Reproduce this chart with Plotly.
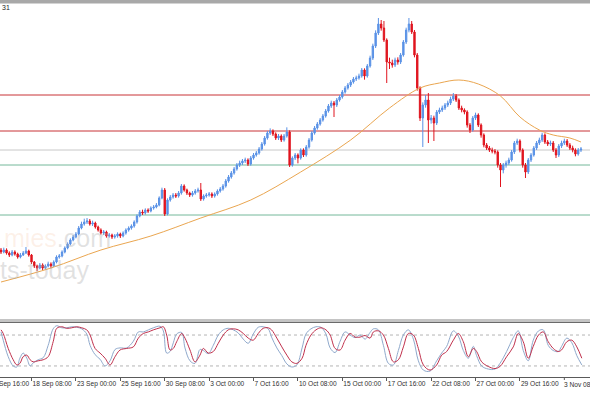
import plotly.graph_objects as go

# ---------------- data (4H bars, XAU/USD style prices) ----------------
bar_index = list(range(210))

opens = [3685, 3679, 3685, 3676, 3670, 3679, 3673, 3664, 3670, 3676,
         3682, 3670, 3649, 3637, 3631, 3640, 3631, 3637, 3643, 3637,
         3649, 3664, 3667, 3679, 3691, 3703, 3715, 3724, 3733, 3751,
         3763, 3769, 3772, 3763, 3766, 3754, 3745, 3736, 3739, 3727,
         3730, 3724, 3727, 3733, 3727, 3736, 3745, 3751, 3757, 3769,
         3787, 3799, 3796, 3805, 3802, 3811, 3814, 3820, 3841, 3865,
         3793, 3835, 3844, 3850, 3847, 3856, 3877, 3865, 3856, 3850,
         3856, 3862, 3865, 3838, 3847, 3850, 3853, 3847, 3853, 3862,
         3868, 3877, 3892, 3904, 3916, 3928, 3940, 3946, 3952, 3955,
         3943, 3961, 3970, 3976, 3988, 4003, 4021, 4036, 4042, 4033,
         4021, 4027, 4015, 4027, 4039, 3940, 3961, 3970, 3961, 3985,
         3970, 3994, 4015, 4036, 4051, 4063, 4075, 4087, 4102, 4117,
         4126, 4120, 4135, 4144, 4159, 4171, 4180, 4189, 4198, 4201,
         4207, 4225, 4207, 4237, 4261, 4297, 4336, 4363, 4351, 4315,
         4249, 4246, 4240, 4255, 4249, 4270, 4309, 4345, 4363, 4339,
         4270, 4171, 4081, 4120, 4135, 4075, 4081, 4066, 4099, 4105,
         4111, 4120, 4126, 4138, 4147, 4135, 4111, 4105, 4099, 4060,
         4045, 4081, 4090, 4060, 4030, 4000, 3991, 3985, 3982, 3979,
         3940, 3925, 3940, 3946, 3955, 3979, 4006, 4012, 3985, 3940,
         3919, 3955, 3970, 3991, 4006, 4015, 4030, 4009, 4003, 4006,
         3985, 3970, 3997, 4006, 4012, 4000, 3991, 3985, 3973, 3985]

highs = [3691, 3692, 3690, 3681, 3685, 3684, 3677, 3676, 3682, 3694,
         3686, 3673, 3652, 3641, 3646, 3645, 3642, 3650, 3648, 3654,
         3669, 3673, 3684, 3696, 3708, 3720, 3730, 3739, 3757, 3770,
         3779, 3781, 3778, 3773, 3770, 3758, 3750, 3745, 3743, 3736,
         3734, 3733, 3738, 3737, 3741, 3750, 3756, 3762, 3774, 3792,
         3805, 3806, 3810, 3810, 3816, 3820, 3826, 3846, 3872, 3871,
         3840, 3850, 3856, 3856, 3862, 3883, 3882, 3869, 3860, 3862,
         3868, 3872, 3886, 3852, 3856, 3859, 3858, 3858, 3867, 3874,
         3883, 3898, 3910, 3922, 3934, 3946, 3953, 3958, 3962, 3960,
         3967, 3976, 3982, 3994, 4009, 4027, 4042, 4050, 4047, 4038,
         4033, 4032, 4033, 4053, 4044, 3966, 3976, 3975, 3990, 3990,
         4000, 4021, 4042, 4057, 4069, 4081, 4093, 4108, 4123, 4133,
         4132, 4141, 4150, 4165, 4177, 4186, 4195, 4204, 4208, 4214,
         4231, 4230, 4243, 4268, 4304, 4344, 4381, 4375, 4372, 4320,
         4262, 4256, 4262, 4263, 4276, 4315, 4352, 4381, 4372, 4345,
         4276, 4176, 4128, 4150, 4156, 4090, 4088, 4105, 4112, 4118,
         4126, 4133, 4145, 4156, 4153, 4140, 4118, 4110, 4104, 4066,
         4087, 4097, 4095, 4065, 4035, 4006, 3997, 3992, 3988, 3984,
         3946, 3946, 3953, 3962, 3985, 4012, 4019, 4017, 3990, 3946,
         3961, 3976, 3997, 4012, 4022, 4037, 4035, 4015, 4013, 4012,
         3991, 4003, 4013, 4019, 4018, 4006, 3998, 3990, 3991, 3994]

lows = [3673, 3675, 3671, 3664, 3666, 3668, 3659, 3660, 3667, 3673,
        3665, 3643, 3631, 3622, 3627, 3625, 3626, 3633, 3630, 3634,
        3645, 3659, 3663, 3675, 3687, 3699, 3711, 3720, 3729, 3747,
        3758, 3763, 3758, 3757, 3749, 3740, 3731, 3730, 3722, 3722,
        3718, 3719, 3722, 3721, 3723, 3731, 3740, 3746, 3752, 3764,
        3783, 3790, 3791, 3796, 3798, 3806, 3810, 3816, 3837, 3787,
        3789, 3830, 3839, 3841, 3842, 3851, 3860, 3850, 3844, 3845,
        3851, 3857, 3832, 3833, 3842, 3845, 3841, 3842, 3848, 3857,
        3863, 3872, 3887, 3899, 3911, 3923, 3934, 3940, 3946, 3937,
        3938, 3956, 3965, 3971, 3983, 3998, 4016, 4030, 4027, 4015,
        4015, 4009, 4010, 4022, 3934, 3935, 3955, 3945, 3956, 3964,
        3965, 3989, 4010, 4031, 4046, 4058, 4070, 4082, 4097, 4111,
        4084, 4114, 4130, 4139, 4154, 4166, 4174, 4184, 4192, 4196,
        4202, 4196, 4202, 4232, 4255, 4291, 4330, 4343, 4309, 4186,
        4228, 4232, 4234, 4241, 4243, 4265, 4303, 4338, 4333, 4263,
        4163, 4072, 3994, 4112, 4006, 4064, 4012, 4060, 4093, 4099,
        4105, 4114, 4120, 4132, 4129, 4105, 4098, 4092, 4052, 4036,
        4040, 4075, 4054, 4022, 3993, 3985, 3979, 3975, 3972, 3932,
        3874, 3915, 3932, 3940, 3950, 3973, 4000, 3978, 3932, 3901,
        3913, 3949, 3965, 3985, 4000, 4009, 4003, 3997, 3997, 3979,
        3961, 3964, 3991, 4000, 3994, 3985, 3978, 3966, 3968, 3979]

closes = [3679, 3685, 3676, 3670, 3679, 3673, 3664, 3670, 3676, 3682,
          3670, 3649, 3637, 3631, 3640, 3631, 3637, 3643, 3637, 3649,
          3664, 3667, 3679, 3691, 3703, 3715, 3724, 3733, 3751, 3763,
          3769, 3772, 3763, 3766, 3754, 3745, 3736, 3739, 3727, 3730,
          3724, 3727, 3733, 3727, 3736, 3745, 3751, 3757, 3769, 3787,
          3799, 3796, 3805, 3802, 3811, 3814, 3820, 3841, 3865, 3793,
          3835, 3844, 3850, 3847, 3856, 3877, 3865, 3856, 3850, 3856,
          3862, 3865, 3838, 3847, 3850, 3853, 3847, 3853, 3862, 3868,
          3877, 3892, 3904, 3916, 3928, 3940, 3946, 3952, 3955, 3943,
          3961, 3970, 3976, 3988, 4003, 4021, 4036, 4042, 4033, 4021,
          4027, 4015, 4027, 4039, 3940, 3961, 3970, 3961, 3985, 3970,
          3994, 4015, 4036, 4051, 4063, 4075, 4087, 4102, 4117, 4126,
          4120, 4135, 4144, 4159, 4171, 4180, 4189, 4198, 4201, 4207,
          4225, 4207, 4237, 4261, 4297, 4336, 4363, 4351, 4315, 4249,
          4246, 4240, 4255, 4249, 4270, 4309, 4345, 4363, 4339, 4270,
          4171, 4081, 4120, 4135, 4075, 4081, 4066, 4099, 4105, 4111,
          4120, 4126, 4138, 4147, 4135, 4111, 4105, 4099, 4060, 4045,
          4081, 4090, 4060, 4030, 4000, 3991, 3985, 3982, 3979, 3940,
          3925, 3940, 3946, 3955, 3979, 4006, 4012, 3985, 3940, 3919,
          3955, 3970, 3991, 4006, 4015, 4030, 4009, 4003, 4006, 3985,
          3970, 3997, 4006, 4012, 4000, 3991, 3985, 3973, 3985, 3988]

# moving average
ma_bars = [0, 18, 36, 54, 72, 90, 108, 126, 140, 151, 158, 165, 172, 180, 187, 194, 199, 205, 209]
ma_vals = [3589, 3631, 3685, 3727, 3781, 3835, 3919, 4015, 4111, 4171, 4186, 4195, 4183, 4147, 4084, 4045, 4030, 4021, 4009]

# horizontal levels
red_levels = [4150, 4042]
gray_level = 3985
green_levels = [3940, 3790]

# stochastic oscillator
st_bars = [0.0, 0.8, 2.6, 4.4, 5.7, 6.8, 8.0, 9.3, 10.5, 11.6, 13.4, 15.2, 17.0, 18.8, 20.1,
           21.9, 23.7, 25.5, 27.3, 29.1, 30.9, 32.1, 33.9, 35.7, 37.5, 39.3, 41.1, 42.9, 45.3,
           47.7, 49.5, 51.3, 53.1, 54.9, 57.3, 58.5, 59.7, 60.9, 62.1, 63.3, 65.1, 66.3, 68.1,
           69.9, 71.7, 72.9, 74.7, 76.5, 78.3, 80.1, 81.9, 83.7, 85.5, 87.3, 89.1, 90.9, 92.7,
           94.5, 96.3, 97.5, 99.4, 101.2, 103.0, 104.8, 106.6, 108.5, 109.9, 111.7, 113.5, 115.3,
           117.1, 118.6, 120.4, 122.2, 124.0, 125.8, 127.6, 129.4, 131.2, 133.0, 134.2, 136.0,
           137.8, 139.6, 141.4, 143.2, 145.0, 146.8, 148.6, 150.4, 152.2, 154.6, 157.0, 158.8,
           160.6, 163.0, 164.8, 166.6, 168.4, 170.2, 171.4, 173.2, 175.6, 178.0, 179.8, 182.2,
           184.6, 186.4, 188.2, 190.0, 191.8, 193.7, 195.4, 197.2, 199.0, 200.8, 202.0, 203.9,
           205.7, 207.5, 209.3]
st_signal = [90, 83, 54, 32, 22, 25, 38, 41, 32, 28, 30, 32, 38, 67, 93,
             96, 93, 94, 96, 94, 90, 80, 54, 45, 35, 22, 38, 51, 54,
             57, 74, 83, 86, 90, 94, 96, 80, 51, 54, 67, 83, 74, 51,
             28, 41, 54, 45, 48, 64, 80, 90, 92, 90, 83, 74, 70, 83,
             93, 94, 90, 74, 57, 41, 28, 25, 35, 60, 80, 90, 94,
             90, 80, 54, 51, 70, 83, 76, 76, 79, 74, 86, 88,
             80, 54, 28, 32, 57, 83, 80, 54, 22, 12, 22, 41,
             48, 70, 83, 67, 38, 54, 48, 28, 19, 15, 19, 38,
             57, 83, 67, 35, 58, 80, 86, 67, 54, 48, 51, 67,
             70, 57, 35]
st_main = [86, 70, 38, 20, 18, 35, 45, 35, 20, 26, 32, 36, 60, 92, 98,
           94, 94, 96, 95, 92, 82, 60, 42, 33, 20, 30, 52, 55, 55,
           68, 86, 86, 90, 94, 97, 88, 45, 48, 65, 82, 85, 55, 30,
           25, 52, 50, 44, 60, 80, 90, 93, 90, 84, 72, 64, 82, 95,
           96, 92, 76, 55, 40, 24, 18, 22, 55, 82, 92, 96, 95,
           82, 55, 46, 68, 86, 80, 75, 80, 72, 85, 92, 90,
           60, 25, 22, 50, 80, 90, 72, 30, 12, 10, 30, 45,
           58, 88, 78, 50, 35, 58, 40, 20, 14, 14, 25, 48,
           75, 88, 50, 30, 70, 88, 90, 60, 50, 48, 58, 74,
           65, 40, 22]
st_levels = [80, 20]

tick_bars = [11, 27, 43, 59, 75, 91, 107, 123, 139, 155, 171, 187, 203]
tick_text = ["18 Sep 08:00", "23 Sep 00:00", "25 Sep 16:00", "30 Sep 08:00", "3 Oct 00:00",
             "7 Oct 16:00", "10 Oct 08:00", "15 Oct 00:00", "17 Oct 16:00", "22 Oct 08:00",
             "27 Oct 00:00", "29 Oct 16:00", "3 Nov 08:00"]
first_label = "Sep 16:00"   # partially visible label at the left edge (15 Sep 16:00)

# ---------------- figure ----------------
W, H = 590, 393
def py(px):  # pixel row -> paper fraction
    return 1 - px / H

fig = go.Figure()

fig.add_trace(go.Candlestick(
    x=bar_index, open=opens, high=highs, low=lows, close=closes,
    increasing=dict(line=dict(color="#5a92e6", width=1), fillcolor="#5a92e6"),
    decreasing=dict(line=dict(color="#e0141e", width=1), fillcolor="#e0141e"),
    whiskerwidth=0, hoverinfo="skip", xaxis="x", yaxis="y", showlegend=False))

fig.add_trace(go.Scatter(x=ma_bars, y=ma_vals, mode="lines",
                         line=dict(color="#eaa650", width=1, shape="spline"),
                         hoverinfo="skip", xaxis="x", yaxis="y", showlegend=False))

fig.add_trace(go.Scatter(x=st_bars, y=st_main, mode="lines",
                         line=dict(color="#8fa9cc", width=1, shape="spline"),
                         hoverinfo="skip", xaxis="x", yaxis="y2", showlegend=False))
fig.add_trace(go.Scatter(x=st_bars, y=st_signal, mode="lines",
                         line=dict(color="#c0304c", width=1, shape="spline"),
                         hoverinfo="skip", xaxis="x", yaxis="y2", showlegend=False))

shapes = []
for lv in red_levels:
    shapes.append(dict(type="line", xref="paper", x0=0, x1=1, yref="y", y0=lv, y1=lv,
                       line=dict(color="#c83236", width=1), layer="below"))
shapes.append(dict(type="line", xref="paper", x0=0, x1=1, yref="y", y0=gray_level, y1=gray_level,
                   line=dict(color="#c8c8c8", width=1), layer="below"))
for lv in green_levels:
    shapes.append(dict(type="line", xref="paper", x0=0, x1=1, yref="y", y0=lv, y1=lv,
                       line=dict(color="#74b89a", width=1), layer="below"))
for lv in st_levels:
    shapes.append(dict(type="line", xref="paper", x0=0, x1=1, yref="y2", y0=lv, y1=lv,
                       line=dict(color="#b4b4b4", width=1, dash="dot"), layer="below"))
# window chrome
shapes.append(dict(type="rect", xref="paper", yref="paper", x0=0, x1=1, y0=py(3.5), y1=1,
                   fillcolor="#a8a8a8", line=dict(width=0)))
shapes.append(dict(type="rect", xref="paper", yref="paper", x0=0, x1=1, y0=py(322), y1=py(319),
                   fillcolor="#c4c4c4", line=dict(width=0)))
shapes.append(dict(type="line", xref="paper", yref="paper", x0=0, x1=1, y0=py(322.5), y1=py(322.5),
                   line=dict(color="#6a6a6a", width=1)))

label_font = dict(size=6.6, color="#303030", family="Liberation Sans")
annotations = [
    dict(text="31", xref="paper", yref="paper", x=0, y=py(8), xanchor="left", yanchor="middle",
         showarrow=False, font=dict(size=7, color="#222222", family="Liberation Sans")),
    dict(text=first_label, xref="paper", yref="paper", x=-0.005, y=py(384), xanchor="left",
         yanchor="middle", showarrow=False, font=label_font),
    dict(text=tick_text[-1], xref="x", yref="paper", x=tick_bars[-1], y=py(384), xanchor="left",
         yanchor="middle", showarrow=False, font=label_font, xshift=-2),
    dict(text='<span style="color:rgba(240,160,110,0.45)">mies</span>.com', xref="paper",
         yref="paper", x=0.003, y=py(238), xanchor="left", yanchor="middle", showarrow=False,
         font=dict(size=25, color="rgba(170,170,170,0.35)", family="Liberation Sans")),
    dict(text="ts-today", xref="paper", yref="paper", x=-0.004, y=py(270), xanchor="left",
         yanchor="middle", showarrow=False,
         font=dict(size=25, color="rgba(170,170,170,0.35)", family="Liberation Sans")),
]

fig.update_layout(
    width=W, height=H, margin=dict(l=0, r=0, t=0, b=0, autoexpand=False),
    paper_bgcolor="white", plot_bgcolor="white", showlegend=False,
    xaxis=dict(domain=[0, 1], range=[-0.36, 212.25], anchor="y2", automargin=False,
               showgrid=False, zeroline=False, showline=True, linecolor="#5a5a5a", linewidth=1,
               ticks="outside", ticklen=3, tickcolor="#5a5a5a", tickwidth=1, tickangle=0,
               tickvals=tick_bars[:-1], ticktext=tick_text[:-1], ticklabelposition="outside right",
               tickfont=label_font,
               rangeslider=dict(visible=False), fixedrange=True),
    yaxis=dict(domain=[py(318), py(5)], range=[3481, 4420], showgrid=False, zeroline=False,
               showticklabels=False, fixedrange=True, automargin=False),
    yaxis2=dict(domain=[py(377), py(323)], range=[-1.4, 103.3], showgrid=False, zeroline=False,
                showticklabels=False, fixedrange=True, automargin=False),
    shapes=shapes, annotations=annotations,
)
# tick mark for the last (edge-clipped) label
fig.add_shape(type="line", xref="x", yref="paper", x0=tick_bars[-1], x1=tick_bars[-1],
              y0=py(377), y1=py(380), line=dict(color="#5a5a5a", width=1))

fig.write_html("out.html")
